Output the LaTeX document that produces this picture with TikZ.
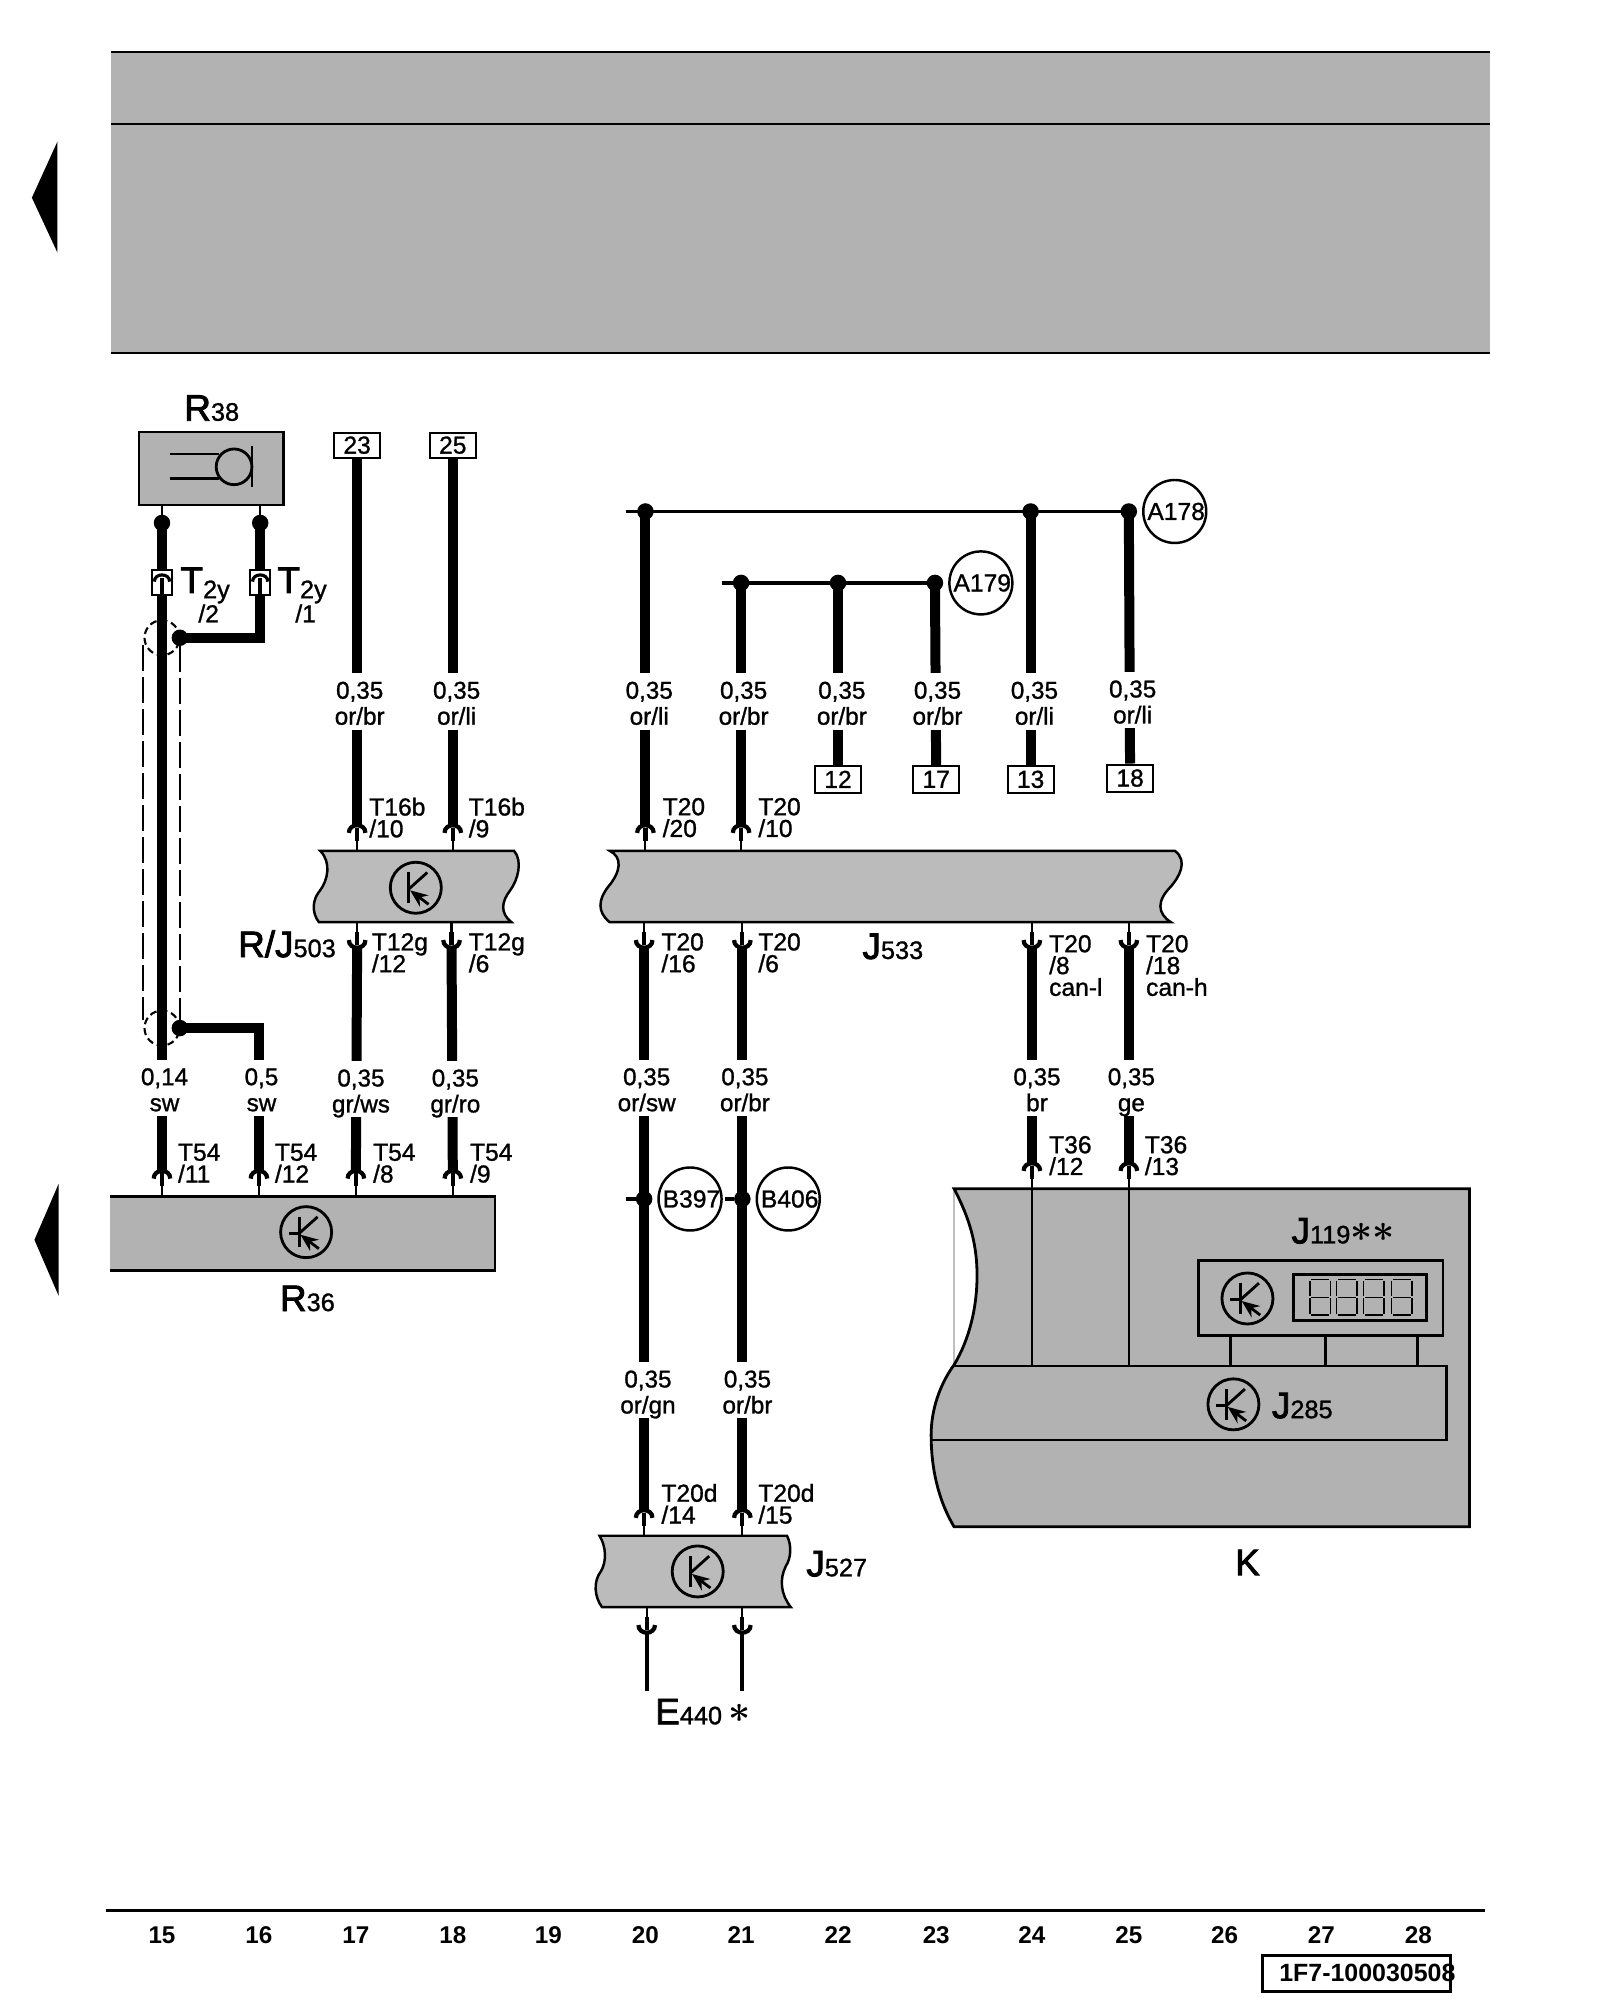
\documentclass[tikz,border=0pt]{standalone}
\usepackage{fontspec}
\setmainfont{Liberation Sans}
\newfontfamily\diagfont{Liberation Sans}[FakeBold=1.1]
\newfontfamily\tagfont{Liberation Sans}[FakeBold=2.2]
\usetikzlibrary{arrows.meta, positioning}
\lineskiplimit=-8pt
\definecolor{bandgray}{HTML}{B2B2B2}
\definecolor{ecugray}{HTML}{BBBBBB}
\newcommand{\tagbig}{\tagfont\fontsize{10.5}{12}\selectfont}
\newcommand{\tagsub}{\diagfont\fontsize{7.2}{8}\selectfont}
\newcommand{\tagstar}[1]{\raisebox{0.4pt}{\fontsize{11}{11}\selectfont\boldmath$#1$}}
\newcommand{\overtext}[1]{\makebox[0pt][c]{\hspace{0.8pt}#1}}

\begin{document}
\begin{tikzpicture}[
        x=0.012759cm, y=-0.012755cm,
        >={Stealth[length=5pt, width=4pt]},
        band/.style={line width=0.6pt},
        ecubody/.style={draw=black, line width=0.7pt, fill=ecugray},
        kbody/.style={draw=black, line width=0.8pt, fill=bandgray},
        wire/.style={line width=1mm},
        busline/.style={line width=1.1pt},
        thinline/.style={line width=0.7pt},
        jointdot/.style={circle, fill=black, inner sep=0pt, outer sep=0pt, minimum size=0.165cm},
        termbox/.style={rectangle, draw, line width=0.6pt, fill=white, inner sep=0pt, minimum width=0.46cm,
                minimum height=0.25cm, font=\diagfont\fontsize{7}{8}\selectfont},
        wirelab/.style={fill=white, inner sep=0pt, minimum width=0.3cm, minimum height=0.55cm, align=center,
                font=\diagfont\fontsize{6.9}{7.4}\selectfont},
        pinlab/.style={anchor=west, inner sep=0pt, align=left, font=\diagfont\fontsize{7}{6.2}\selectfont},
        spliceloc/.style={circle, draw, line width=0.7pt, fill=white, inner sep=0pt, minimum size=0.63cm,
                font=\diagfont\fontsize{7}{8}\selectfont},
        tag/.style={inner sep=0pt, font=\tagbig},
        shield/.style={line width=0.6pt, dash pattern=on 0.26cm off 0.06cm},
        shieldring/.style={circle, draw, line width=0.6pt, dash pattern=on 0.07cm off 0.04cm, inner sep=0pt,
                minimum size=0.35cm},
        colnum/.style={inner sep=0pt, font=\bfseries\fontsize{6.9}{8}\selectfont},
        pincap/.pic={
                \draw[line width=0.6pt] (0,0) -- (0,-9);
                \draw[line width=1.2pt] (0,-8) -- (0,-18);
                \draw[line width=1.2pt] (-6.5,-14) .. controls (-6.5,-22) and (6.5,-22) .. (6.5,-14);
            },
        ecusym/.pic={
                \draw[line width=0.8pt] (0,0) circle (20);
                \draw[line width=0.8pt] (-5.5,-12) -- (-5.5,12);
                \draw[line width=0.8pt] (-5.5,1) -- (9,-12);
                \draw[<-, line width=0.8pt] (-4.5,2) -- (10,13);
            },
        ecubase/.pic={
                \pic {ecusym};
                \draw[line width=0.8pt] (-16,1) -- (-5,1);
            },
    ]
    \useasboundingbox (0,0) rectangle (1254,1568);

    % === HEADER ===
    \fill[bandgray] (87,41) rectangle (1168,277);
    \draw[band] (87,41) -- (1168,41);
    \draw[band] (87,97) -- (1168,97);
    \draw[band] (87,277) -- (1168,277);
    \fill (25,155) -- (45,111) -- (45,198) -- cycle;
    \fill (27,972) -- (46,928) -- (46,1016) -- cycle;

    % === COLUMN RULER ===
    \draw[line width=0.8pt] (83,1498) -- (1164,1498);
    \foreach \n/\x in {15/127, 16/203, 17/279, 18/355, 19/430, 20/506, 21/581, 22/657, 23/734, 24/809, 25/885, 26/960, 27/1036, 28/1112} {
            \node[colnum] (col\n) at (\x,1517) {\n};
        }
    \node[draw, line width=0.8pt, inner sep=0pt, minimum width=1.88cm, minimum height=0.36cm] (docbox) at (1063.5,1547) {};
    \node[colnum, font=\bfseries\fontsize{7.1}{8}\selectfont] (docno) at (1072,1547) {1F7-100030508};

    % === MODULES ===
    \node[draw, line width=0.7pt, fill=bandgray, inner sep=0pt, minimum width=1.445cm, minimum height=0.73cm] (r38) at (165.5,367.5) {};
    \draw[thinline] (133,356) -- (172,356);
    \draw[thinline] (133,375) -- (172,375);
    \draw[line width=0.8pt] (183.5,366) circle (14);
    \draw[line width=0.8pt] (197.5,350) -- (197.5,382);

    \path[fill=bandgray] (86,938) rectangle (388,996);
    \draw[line width=0.8pt] (86,938) -- (388,938) -- (388,996) -- (86,996);
    \pic[scale=0.85] at (240,966) {ecubase};

    \draw[ecubody] (251,667) -- (403,667) .. controls (410,675) and (406,690) .. (400,698)
        .. controls (393,707) and (392,716) .. (401,723) -- (250,723)
        .. controls (244,715) and (245,705) .. (251,698) .. controls (257,690) and (260,676) .. (251,667) -- cycle;
    \pic at (326,696) {ecusym};

    \draw[ecubody] (478,667) -- (921,667) .. controls (932,675) and (924,688) .. (918,695)
        .. controls (907,706) and (907,716) .. (918,723) -- (478,723)
        .. controls (468,715) and (469,705) .. (477,695) .. controls (487,683) and (488,672) .. (478,667) -- cycle;

    \draw[ecubody] (470,1204) -- (617,1204) .. controls (621,1212) and (620,1222) .. (616,1228)
        .. controls (611,1238) and (612,1250) .. (620,1260) -- (472,1260)
        .. controls (466,1252) and (465,1240) .. (471,1232) .. controls (476,1224) and (475,1212) .. (470,1204) -- cycle;
    \pic at (547,1232) {ecusym};

    % K with J285 and J119
    \draw[gray!50, line width=0.4pt] (748,932) -- (748,1070);
    \draw[kbody] (748,932) -- (1152,932) -- (1152,1197) -- (748,1197) .. controls (735,1175) and (730,1150) .. (730,1125)
        .. controls (730,1105) and (737,1085) .. (748,1070) .. controls (760,1050) and (766,1025) .. (766,1000)
        .. controls (766,975) and (760,955) .. (748,932) -- cycle;
    \draw[line width=0.8pt] (730,1129) -- (1134,1129) -- (1134,1071) -- (748,1071);
    \pic[scale=0.85] at (967,1101) {ecubase};
    \node[draw, line width=0.8pt, inner sep=0pt, minimum width=2.445cm, minimum height=0.755cm] (j119) at (1035.5,1017.5) {};
    \pic[scale=0.85] at (978,1018) {ecubase};
    \node[draw, line width=0.8pt, inner sep=0pt, minimum width=1.33cm, minimum height=0.46cm] (disp) at (1066,1017) {};
    \foreach \dx in {1027, 1048, 1069, 1091} {
            \draw[line width=0.4pt] (\dx+1,1003) -- (\dx+15,1003);
            \draw[line width=0.4pt] (\dx+1,1017) -- (\dx+15,1017);
            \draw[line width=0.4pt] (\dx+1,1031) -- (\dx+15,1031);
            \draw[line width=0.4pt] (\dx,1004) -- (\dx,1016);
            \draw[line width=0.4pt] (\dx+16,1004) -- (\dx+16,1016);
            \draw[line width=0.4pt] (\dx,1018) -- (\dx,1030);
            \draw[line width=0.4pt] (\dx+16,1018) -- (\dx+16,1030);
        }
    \foreach \sx in {965, 1039, 1111} {
            \draw[line width=0.8pt] (j119.south -| \sx,0) -- (\sx,1071);
        }

    % === TERMINALS AND SPLICES ===
    \node[termbox] (box23) at (280,349) {23};
    \node[termbox] (box25) at (355,349) {25};
    \node[termbox, minimum height=0.27cm] (box12) at (657,611) {12};
    \node[termbox, minimum height=0.27cm] (box17) at (734,611) {17};
    \node[termbox, minimum height=0.27cm] (box13) at (808,611) {13};
    \node[termbox, minimum height=0.27cm] (box18) at (886,610) {18};

    \foreach \dname/\dx/\dy in {dot15/127/410, dot16/204/410, shd1/141/500, shd2/141/806,
            a20/506/401, a24/808/401, a25/885/401, c21/581/457, c22/657/457, c23/733/457,
            sp20/505/940, sp21/582/940} {
            \node[jointdot] (\dname) at (\dx,\dy) {};
        }

    % === PINS ===
    \foreach \pname/\px/\py in {t17/280/667, t18/355/667, t20/506/667, t21/581/667, b15/127/938, b16/203/938,
            b17/279/938, b18/355/938, k24/809/932, k25/885/932, m20/505/1204, m21/582/1204} {
            \pic at (\px,\py) {pincap};
            \coordinate (\pname) at (\px,\py-20);
        }
    \foreach \pname/\px/\py in {d17/280/723, d18/354/723, d20/505/723, d21/582/723, d24/809/723, d25/885/723,
            n20/507/1260, n21/582/1260} {
            \pic[yscale=-1] at (\px,\py) {pincap};
            \coordinate (\pname) at (\px,\py+20);
        }

    % === WIRES ===
    \draw[wire] (box23.south -| t17) -- (t17);
    \draw[wire] (box25.south -| t18) -- (t18);
    \draw[wire] (d17) -- (b17);
    \draw[wire] (d18) -- (b18);
    \draw[wire] (a20.center) -- (t20);
    \draw[wire] (c21.center) -- (t21);
    \draw[wire] (c22.center) -- (box12);
    \draw[wire] (c23.center) -- (box17);
    \draw[wire] (a24.center) -- (box13);
    \draw[wire] (a25.center) -- (box18);
    \draw[wire] (d20) -- (m20);
    \draw[wire] (d21) -- (m21);
    \draw[wire] (d24) -- (k24);
    \draw[wire] (d25) -- (k25);
    \draw[wire] (dot15.center) -- (b15);
    \draw[wire] (dot16.center) |- (shd1.center);
    \draw[wire] (shd2.center) -| (b16);
    \draw[thinline] (r38.south -| dot15) -- (dot15);
    \draw[thinline] (r38.south -| dot16) -- (dot16);
    \draw[thinline] (k24) ++(0,20) -- (809,1071);
    \draw[thinline] (k25) ++(0,20) -- (885,1071);
    \coordinate (e20) at (507,1326);
    \coordinate (e21) at (582,1326);
    \draw[line width=1.1pt] (n20) -- (e20);
    \draw[line width=1.1pt] (n21) -- (e21);

    % bus lines
    \coordinate (busa) at (491,401);
    \coordinate (busc) at (566,457);
    \coordinate (spa) at (491,940);
    \coordinate (spb) at (568,940);
    \draw[busline] (busa) -- (a25);
    \draw[busline] (busc) -- (c23);
    \draw[busline] (spa) -- (sp20);
    \draw[busline] (spb) -- (sp21);

    \node[spliceloc] (a178) at (921,401) {\overtext{A178}};
    \node[spliceloc] (a179) at (769,457) {\overtext{A179}};
    \node[spliceloc] (b397) at (541,940) {\overtext{B397}};
    \node[spliceloc] (b406) at (618,940) {\overtext{B406}};

    % shield
    \coordinate (shl1) at (112,506);
    \coordinate (shl2) at (112,800);
    \draw[shield] (shd1) -- (shd2);
    \draw[shield] (shl1) -- (shl2);
    \node[shieldring] (ring1) at (127,500) {};
    \node[shieldring] (ring2) at (127,806) {};

    % T2y connector housings
    \foreach \hname/\hx in {t2a/127, t2b/204} {
            \node[draw, line width=0.6pt, fill=white, inner sep=0pt, minimum width=0.2cm, minimum height=0.25cm] (\hname) at (\hx,457) {};
            \draw[line width=1pt] (\hx,453) -- (\hx,467);
            \draw[line width=0.9pt] (\hx-6,456) .. controls (\hx-6,449) and (\hx+6,449) .. (\hx+6,456);
        }

    % === WIRE LABELS ===
    \foreach \lname/\lx/\ly/\ltxt in {w17a/282/550/{0,35\\or/br}, w18a/358/550/{0,35\\or/li},
            w20a/509/550/{0,35\\or/li}, w21a/583/550/{0,35\\or/br}, w22a/660/550/{0,35\\or/br},
            w23a/735/550/{0,35\\or/br}, w24a/811/550/{0,35\\or/li}, w25a/888/549/{0,35\\or/li},
            w15b/129/853/{0,14\\sw}, w16b/205/853/{0,5\\sw}, w17b/283/854/{0,35\\gr/ws}, w18b/357/854/{0,35\\gr/ro},
            w20b/507/853/{0,35\\or/sw}, w21b/584/853/{0,35\\or/br}, w24b/813/853/{0,35\\br}, w25b/887/853/{0,35\\ge},
            w20c/508/1090/{0,35\\or/gn}, w21c/586/1090/{0,35\\or/br}} {
            \node[wirelab] (\lname) at (\lx,\ly) {\rule{0pt}{7.2pt}\ltxt\vphantom{g}};
        }

    % === PIN LABELS ===
    \foreach \lname/\lx/\ly/\ltxt in {lt17/289/641/{T16b\\/10}, lt18/367/641/{T16b\\/9},
            lt20/519/641/{T20\\/20}, lt21/594/641/{T20\\/10},
            ld17/291/747/{T12g\\/12}, ld18/367/747/{T12g\\/6},
            ld20/518/747/{T20\\/16}, ld21/594/747/{T20\\/6},
            ld24/822/757/{T20\\/8\\ can-l}, ld25/898/757/{T20\\/18\\ can-h},
            lb15/139/912/{T54\\/11}, lb16/215/912/{T54\\/12}, lb17/292/912/{T54\\/8}, lb18/368/912/{T54\\/9},
            lk24/822/906/{T36\\/12}, lk25/897/906/{T36\\/13},
            lm20/518/1179/{T20d\\/14}, lm21/594/1179/{T20d\\/15}} {
            \node[pinlab] (\lname) at (\lx,\ly) {\ltxt};
        }
    \node[pinlab] (lt2a) at (155,481) {/2};
    \node[pinlab] (lt2b) at (231,481) {/1};

    % === COMPONENT TAGS ===
    \node[tag] (tagr38) at (166,320) {R{\tagsub 38}};
    \node[tag, anchor=west] (tagt2a) at (141,459) {T{\tagsub\raisebox{-1.5pt}{2y}}};
    \node[tag, anchor=west] (tagt2b) at (217,459) {T{\tagsub\raisebox{-1.5pt}{2y}}};
    \node[tag] (tagj503) at (225,740) {R/J{\tagsub 503}};
    \node[tag] (tagj533) at (700,742) {J{\tagsub 533}};
    \node[tag] (tagr36) at (241,1018) {R{\tagsub 36}};
    \node[tag] (tagj527) at (656,1226) {J{\tagsub 527}};
    \node[tag] (tage440) at (551,1342) {E{\tagsub 440}\,\tagstar{\ast}};
    \node[tag] (tagj119) at (1053,965) {J{\tagsub 119}\tagstar{\ast\ast}};
    \node[tag] (tagj285) at (1021,1102) {J{\tagsub 285}};
    \node[tag] (tagk) at (978,1225) {K};
\end{tikzpicture}
\end{document}
